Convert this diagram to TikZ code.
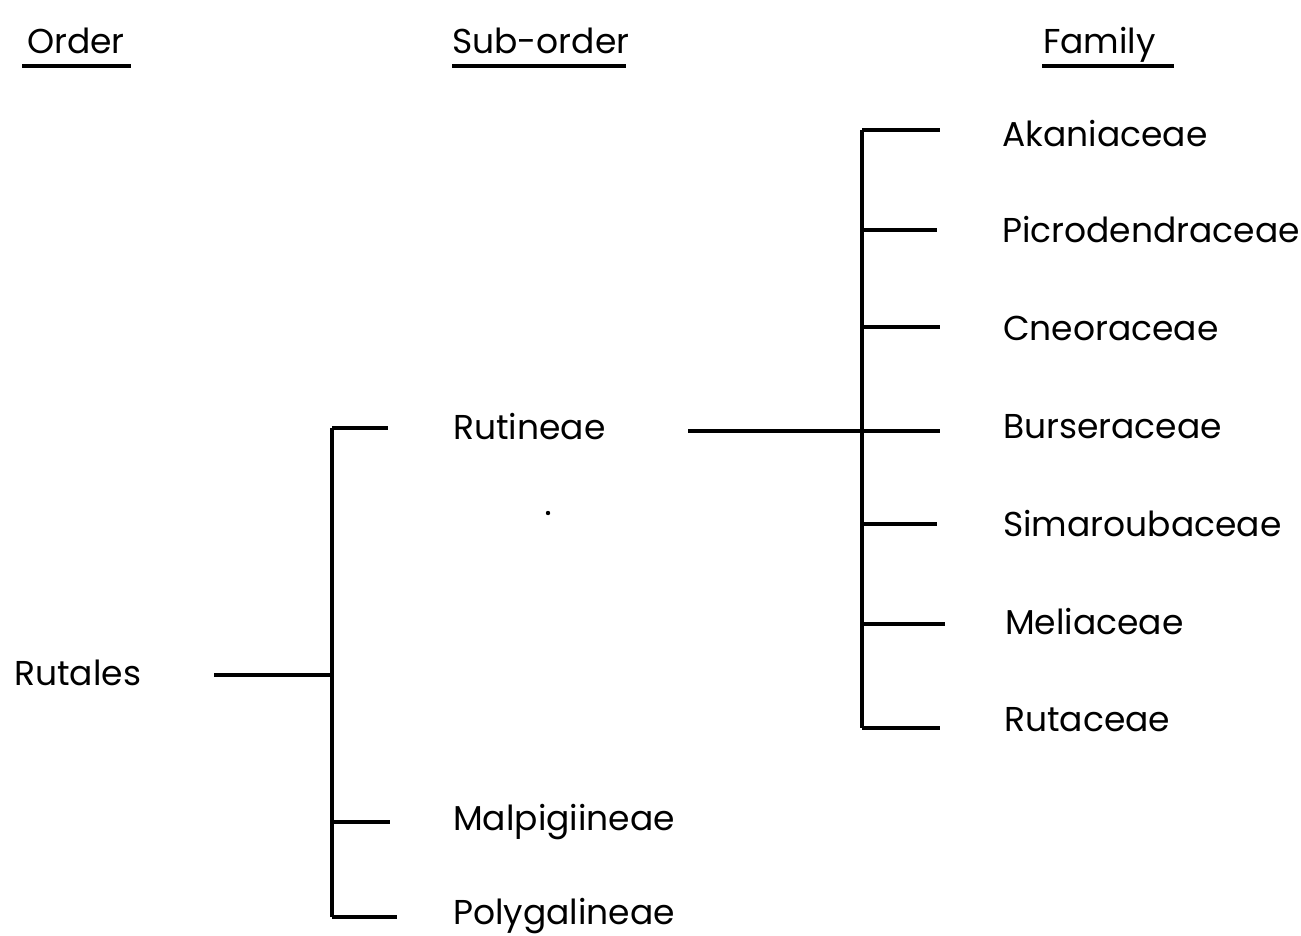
\documentclass[tikz,border=0pt]{standalone}
\usepackage{fontspec}
\setmainfont{Poppins}
\begin{document}
\begin{tikzpicture}[x=1pt,y=-1pt,
  lbl/.style={anchor=base west,inner sep=0pt,font=\fontsize{34.5}{34.5}\selectfont},
  ln/.style={line width=3.4pt},
  ul/.style={line width=3.6pt}]
\useasboundingbox (0,0) rectangle (1301,935);
% headings
\node[lbl] (hOrder) at (27,53) {Order};
\node[lbl] (hSub) at (452,53) {Sub-order};
\node[lbl] (hFam) at (1043,53) {Family};
\draw[ul] (hOrder.west |- 0,66) ++(-5,0) -- (131,66);
\draw[ul] (hSub.west |- 0,66) -- (626,66);
\draw[ul] (hFam.west |- 0,66) ++(-1,0) -- (1174,66);
% order
\node[lbl] (rutales) at (14,685) {Rutales};
\coordinate (o1) at (214,675);
\coordinate (j1) at (332,675);
\coordinate (v1t) at (332,428);
\coordinate (v1b) at (332,917);
\draw[ln] (o1) -- (j1);
\draw[ln] (v1t) -- (v1b);
% sub-orders
\node[lbl] (rutineae) at (453,439) {Rutineae};
\node[lbl] (malp) at (453,830) {Malpigiineae};
\node[lbl] (poly) at (453,924) {Polygalineae};
\coordinate (t1) at (388,428);
\coordinate (t2a) at (332,822);
\coordinate (t2) at (390,822);
\coordinate (t3) at (397,917);
\draw[ln] (v1t) -- (t1);
\draw[ln] (t2a) -- (t2);
\draw[ln] (v1b) -- (t3);
% families
\coordinate (r0) at (688,431);
\coordinate (r1) at (940,431);
\draw[ln] (r0) -- (r1);
\coordinate (v2t) at (862,130);
\coordinate (v2b) at (862,728);
\draw[ln] (v2t) -- (v2b);
\foreach \y/\e in {130/940,230/937,327/940,524/937,624/945,728/940}{
  \draw[ln] (862,\y) -- (\e,\y);
}
\node[lbl] (f1) at (1002,146) {Akaniaceae};
\node[lbl] (f2) at (1002,242) {Picrodendraceae};
\node[lbl] (f3) at (1003,340) {Cneoraceae};
\node[lbl] (f4) at (1003,438) {Burseraceae};
\node[lbl] (f5) at (1003,536) {Simaroubaceae};
\node[lbl] (f6) at (1005,634) {Meliaceae};
\node[lbl] (f7) at (1004,731) {Rutaceae};
\fill (548,513) circle (2.2pt);
\end{tikzpicture}
\end{document}
